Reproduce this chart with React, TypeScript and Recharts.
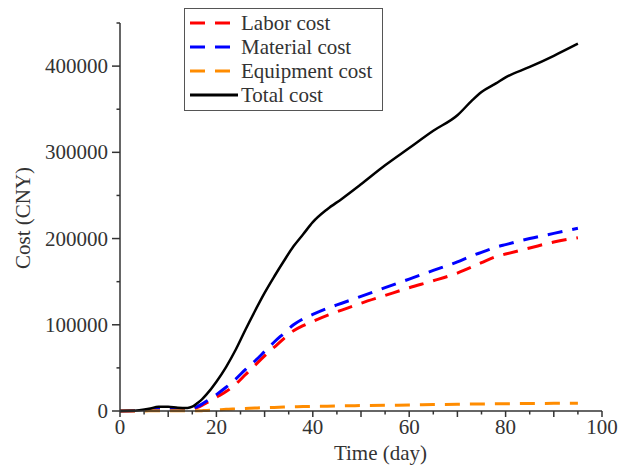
import { CartesianGrid, Label, Legend, Line, LineChart, XAxis, YAxis } from "recharts";

const DAYS = [0, 2, 4, 6, 8, 10, 12, 14, 15, 16, 17, 18, 20, 22, 24, 26, 28, 30, 32, 34, 36, 38, 40, 43, 46, 50, 55, 60, 65, 70, 73, 75, 78, 80, 85, 90, 95];
const LABOR = [0, 100, 400, 1200, 2000, 2000, 1500, 1500, 2000, 4000, 6500, 9500, 16000, 22500, 31000, 42000, 53000, 64000, 74000, 84000, 93000, 99000, 104000, 111000, 117000, 125000, 134000, 143000, 151000, 160000, 167000, 172000, 179000, 182000, 189000, 196000, 201000];
const MATERIAL = [0, 100, 500, 1500, 2500, 2500, 1800, 1800, 2500, 5000, 8000, 11500, 19000, 27500, 37000, 48000, 58000, 69000, 80000, 90000, 100000, 107000, 112000, 119000, 125000, 133000, 143000, 153000, 163000, 173000, 180000, 184000, 190000, 193000, 200000, 206000, 212000];
const EQUIPMENT = [0, 0, 0, 200, 300, 300, 200, 200, 200, 300, 400, 600, 1200, 2000, 2500, 3000, 3500, 3900, 4200, 4600, 4900, 5100, 5300, 5500, 5900, 6300, 6600, 7000, 7400, 7800, 8000, 8100, 8300, 8400, 8700, 8900, 9000];
const TOTAL = [0, 200, 1000, 2500, 5000, 5000, 3800, 3500, 5000, 9000, 13500, 19500, 34000, 51000, 71000, 94000, 116000, 137000, 156000, 174000, 191000, 205000, 219000, 234000, 246000, 263000, 285000, 305000, 325000, 343000, 360000, 370000, 380000, 387000, 399000, 412000, 426000];

const X_TICKS = [0, 5, 10, 15, 20, 25, 30, 35, 40, 45, 50, 55, 60, 65, 70, 75, 80, 85, 90, 95, 100];
const Y_TICKS = [0, 50000, 100000, 150000, 200000, 250000, 300000, 350000, 400000, 450000];

const SERIES = [
  { key: "labor", name: "Labor cost", color: "#ff0000", dashed: true },
  { key: "material", name: "Material cost", color: "#0000ff", dashed: true },
  { key: "equipment", name: "Equipment cost", color: "#ff8c00", dashed: true },
  { key: "total", name: "Total cost", color: "#000000", dashed: false },
];

const AXIS = "#333333";
const FONT = "'Liberation Serif', 'Times New Roman', serif";

const data = DAYS.map((day, i) => ({
  day,
  labor: LABOR[i],
  material: MATERIAL[i],
  equipment: EQUIPMENT[i],
  total: TOTAL[i],
}));

function YTick({ x, y, payload }: any) {
  const major = payload.value % 100000 === 0;
  return (
    <g>
      <line x1={x} x2={x - (major ? 8 : 3.5)} y1={y} y2={y} stroke={AXIS} strokeWidth={1.5} />
      {major && (
        <text x={x - 12} y={y} dy="0.34em" textAnchor="end" fill={AXIS} fontFamily={FONT} fontSize={21}>
          {payload.value}
        </text>
      )}
    </g>
  );
}

function XTick({ x, y, payload }: any) {
  const major = payload.value % 10 === 0;
  const labelled = payload.value % 20 === 0;
  return (
    <g>
      <line x1={x} x2={x} y1={y} y2={y + (major ? 6 : 3.5)} stroke={AXIS} strokeWidth={1.5} />
      {labelled && (
        <text x={x} y={y + 22.5} textAnchor="middle" fill={AXIS} fontFamily={FONT} fontSize={21}>
          {payload.value}
        </text>
      )}
    </g>
  );
}

function LegendBox() {
  return (
    <div
      style={{
        width: 199,
        height: 103,
        boxSizing: "border-box",
        border: "1px solid #555",
        background: "#fff",
        paddingTop: 2,
        fontFamily: FONT,
        fontSize: 21,
        color: AXIS,
      }}
    >
      {SERIES.map((s) => (
        <div key={s.key} style={{ display: "flex", alignItems: "center", height: 24, lineHeight: "24px" }}>
          <svg width={56} height={24} style={{ flex: "none" }}>
            <line
              x1={5}
              x2={s.dashed ? 45 : 53}
              y1={12}
              y2={12}
              stroke={s.color}
              strokeWidth={3}
              strokeDasharray={s.dashed ? "15 10" : undefined}
            />
          </svg>
          <span style={{ whiteSpace: "nowrap" }}>{s.name}</span>
        </div>
      ))}
    </div>
  );
}

export default function App() {
  return (
    <div style={{ width: 627, height: 458 }}>
      <LineChart width={627} height={458} data={data} margin={{ top: 15, right: 33, left: 0, bottom: 0 }}>
        <CartesianGrid stroke="none" />
        <XAxis
          dataKey="day"
          type="number"
          domain={[0, 100]}
          ticks={X_TICKS}
          interval={0}
          height={55}
          tickSize={0}
          tickMargin={0}
          tickLine={false}
          axisLine={{ stroke: AXIS, strokeWidth: 1.5 }}
          tick={<XTick />}
        >
          <Label
            content={() => (
              <text x={372.5} y={452} textAnchor="middle" fill={AXIS} fontFamily={FONT} fontSize={21}>
                Time (day)
              </text>
            )}
          />
        </XAxis>
        <YAxis
          type="number"
          domain={[0, 450000]}
          ticks={Y_TICKS}
          interval={0}
          width={112}
          tickSize={0}
          tickMargin={0}
          tickLine={false}
          axisLine={{ stroke: AXIS, strokeWidth: 1.5 }}
          tick={<YTick />}
        >
          <Label
            content={() => (
              <text
                x={21.5}
                y={210}
                transform="rotate(-90 21.5 210)"
                textAnchor="middle"
                fill={AXIS}
                fontFamily={FONT}
                fontSize={21}
              >
                Cost (CNY)
              </text>
            )}
          />
        </YAxis>
        <Legend
          layout="vertical"
          align="center"
          verticalAlign="middle"
          wrapperStyle={{ left: 176, top: 0, width: 199 }}
          content={() => <LegendBox />}
        />
        {SERIES.map((s) => (
          <Line
            key={s.key}
            dataKey={s.key}
            name={s.name}
            type="monotone"
            stroke={s.color}
            strokeWidth={s.dashed ? 3 : 2.5}
            strokeDasharray={s.dashed ? "15 10" : undefined}
            dot={false}
            activeDot={false}
            isAnimationActive={false}
          />
        ))}
      </LineChart>
    </div>
  );
}
